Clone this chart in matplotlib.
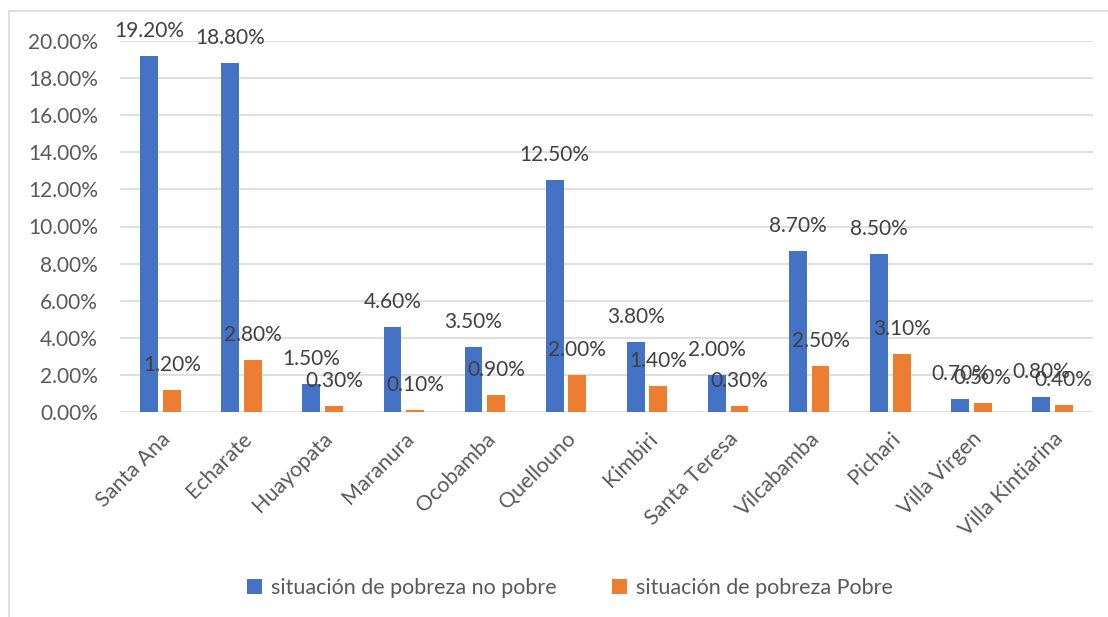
import matplotlib
matplotlib.use("Agg")
import matplotlib.pyplot as plt
import numpy as np
from matplotlib.patches import Rectangle
from matplotlib.ticker import FuncFormatter

categories = ["Santa Ana", "Echarate", "Huayopata", "Maranura", "Ocobamba", "Quellouno",
              "Kimbiri", "Santa Teresa", "Vilcabamba", "Pichari", "Villa Virgen", "Villa Kintiarina"]
no_pobre = [0.192, 0.188, 0.015, 0.046, 0.035, 0.125, 0.038, 0.020, 0.087, 0.085, 0.007, 0.008]
pobre = [0.012, 0.028, 0.003, 0.001, 0.009, 0.020, 0.014, 0.003, 0.025, 0.031, 0.005, 0.004]
series_names = ["situación de pobreza no pobre", "situación de pobreza Pobre"]
colors = ["#4472C4", "#ED7D31"]

plt.rcParams['font.family'] = ['Lato', 'DejaVu Sans']
FS = 15

W, H = 1108, 617
fig = plt.figure(figsize=(W / 100, H / 100), dpi=100)
ax = fig.add_axes([120 / W, 1 - 412 / H, (1093 - 120) / W, (412 - 41) / H])

x = np.arange(len(categories))
bw = 0.22
off = 0.14
for vals, sign, col, name in zip([no_pobre, pobre], [-1, 1], colors, series_names):
    bars = ax.bar(x + sign * off, vals, width=bw, color=col, label=name, zorder=3)
    for b, v in zip(bars, vals):
        ax.annotate(f"{v * 100:.2f}%", (b.get_x() + b.get_width() / 2, v),
                    xytext=(0, 18), textcoords="offset points", ha="center", va="center",
                    fontsize=FS, color="#404040", zorder=5)

ax.set_xlim(-0.5, len(categories) - 0.5)
ax.set_ylim(0, 0.20)
ax.set_yticks(np.arange(0, 0.201, 0.02))
ax.yaxis.set_major_formatter(FuncFormatter(lambda v, p: f"{v * 100:.2f}%"))
ax.grid(axis="y", color="#D9D9D9", linewidth=1.2, zorder=0)
ax.set_axisbelow(True)
for s in ax.spines.values():
    s.set_visible(False)
ax.tick_params(axis="both", length=0, labelcolor="#595959")
ax.tick_params(axis="y", pad=16, labelsize=FS)
ax.set_xticks(x)
ax.set_xticklabels(categories, rotation=45, ha="right", rotation_mode="anchor")
ax.tick_params(axis="x", pad=12, labelsize=15.5)

fig.legend(loc="center", bbox_to_anchor=(570 / W, 1 - 588 / H), ncol=2, frameon=False,
           fontsize=15.5, labelcolor="#595959", handlelength=0.7, handleheight=0.7,
           handletextpad=0.4, columnspacing=2.6)

fig.patches.append(Rectangle((9 / W, -0.1), 1.2, 1 - 11 / H + 0.1, transform=fig.transFigure,
                             fill=False, edgecolor="#D9D9D9", linewidth=1.2, zorder=0))

fig.savefig("out.png", dpi=100, facecolor="white")
